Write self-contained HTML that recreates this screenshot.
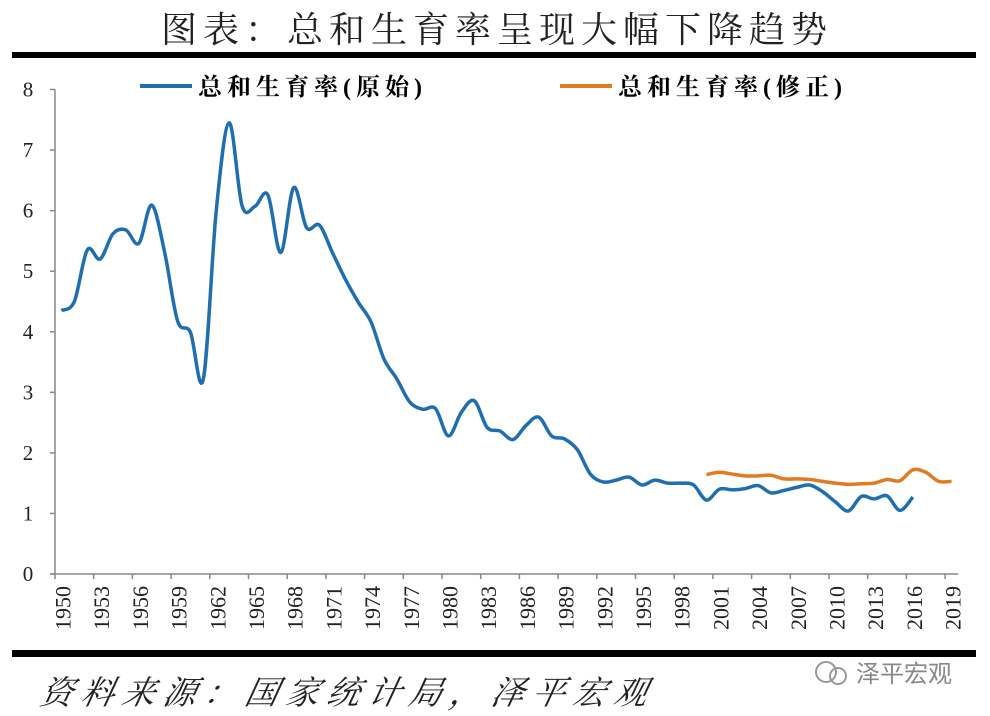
<!DOCTYPE html>
<html><head><meta charset="utf-8"><style>
html,body{margin:0;padding:0;background:#fff;width:990px;height:716px;overflow:hidden}
svg{display:block}
</style></head><body>
<svg id="chart" width="990" height="716" xmlns="http://www.w3.org/2000/svg">
<text x="497" y="42" text-anchor="middle" font-family="'Liberation Serif','Noto Serif CJK SC',serif" font-size="36" fill="#222" letter-spacing="6">图表：总和生育率呈现大幅下降趋势</text>
<rect x="12" y="52" width="964" height="6" fill="#000"/>
<rect x="12" y="650" width="964" height="7" fill="#000"/>
<g>
<g>
<line x1="140" y1="86" x2="192" y2="86" stroke="#1f6fb0" stroke-width="4"/>
<text x="198" y="95" font-family="'Liberation Serif','Noto Serif CJK SC',serif" font-weight="bold" font-size="24" letter-spacing="5" fill="#000">总和生育率(原始)</text>
</g>
<g>
<line x1="560" y1="86" x2="612" y2="86" stroke="#e07b22" stroke-width="4"/>
<text x="618" y="95" font-family="'Liberation Serif','Noto Serif CJK SC',serif" font-weight="bold" font-size="24" letter-spacing="5" fill="#000">总和生育率(修正)</text>
</g>
</g>
<g id="axes"></g>
<g id="series"></g>
<text x="38" y="704" font-family="'Liberation Serif','Noto Serif CJK SC',serif" font-style="italic" font-size="33" letter-spacing="8" fill="#222" transform="skewX(-12) translate(150,0)">资料来源：国家统计局，泽平宏观</text>
<g>
<circle cx="826" cy="672" r="10" fill="none" stroke="#999" stroke-width="2"/>
<circle cx="838" cy="676" r="8" fill="none" stroke="#999" stroke-width="2"/>
<text x="856" y="682" font-family="'Liberation Sans','Noto Sans CJK SC',sans-serif" font-size="24" fill="#888">泽平宏观</text>
</g>
</svg>
<script>
const startYear = 1950;
const endYear = 2019;
const originalValues = [4.35,4.5,5.35,5.2,5.62,5.68,5.46,6.09,5.31,4.18,3.99,3.22,6.0,7.45,6.08,6.07,6.26,5.31,6.38,5.72,5.76,5.31,4.87,4.49,4.16,3.55,3.22,2.84,2.72,2.73,2.28,2.67,2.86,2.42,2.36,2.22,2.45,2.59,2.28,2.23,2.05,1.65,1.52,1.55,1.6,1.47,1.55,1.5,1.5,1.47,1.22,1.4,1.39,1.41,1.46,1.34,1.38,1.43,1.47,1.36,1.19,1.04,1.28,1.24,1.29,1.05,1.27];
const revisedStart = 2000;
const revisedValues = [1.64,1.68,1.65,1.62,1.62,1.63,1.57,1.57,1.56,1.53,1.5,1.48,1.49,1.5,1.56,1.54,1.72,1.68,1.53,1.53];
const yTicks = [0,1,2,3,4,5,6,7,8];

const NS='http://www.w3.org/2000/svg';
const X0=55, X1=958, Y0=574, YTOP=89.5;
const nCat=endYear-startYear+1, cw=(X1-X0)/nCat;
const xs=y=>X0+cw*(y-startYear+0.5);
const ys=v=>Y0-(v/8)*(Y0-YTOP);
function mk(tag,attrs,parent){const e=document.createElementNS(NS,tag);for(const k in attrs)e.setAttribute(k,attrs[k]);parent.appendChild(e);return e;}
const axes=document.getElementById('axes'), series=document.getElementById('series');
const ya=mk('line',{x1:X0,y1:YTOP,x2:X0,y2:Y0,stroke:'#888','stroke-width':1.5},axes);


const xa=mk('line',{x1:X0-5,y1:Y0,x2:X1,y2:Y0,stroke:'#888','stroke-width':1.5},axes);


yTicks.forEach(t=>{
  const y=ys(t);
  mk('line',{x1:X0-5,y1:y,x2:X0,y2:y,stroke:'#888','stroke-width':1.5},axes);
  const tx=mk('text',{x:28,y:y+7,'text-anchor':'middle','font-family':"'Liberation Serif',serif",'font-size':21,fill:'#222'},axes);
  tx.textContent=t;
  
  
});
for(let yr=startYear; yr<=endYear; yr+=3){
  const tx0=X0+cw*(yr-startYear);
  mk('line',{x1:tx0,y1:Y0,x2:tx0,y2:Y0+5,stroke:'#888','stroke-width':1.5},axes);
  const cx=xs(yr)+1;
  const t=mk('text',{x:0,y:0,'text-anchor':'end','font-family':"'Liberation Serif',serif",'font-size':22,fill:'#222',transform:`translate(${cx+8},${Y0+12}) rotate(-90)`},axes);
  t.textContent=yr;
  
  
}
function smooth(pts){
  let d=`M${pts[0][0]},${pts[0][1]}`;
  for(let i=0;i<pts.length-1;i++){
    const p0=pts[Math.max(0,i-1)],p1=pts[i],p2=pts[i+1],p3=pts[Math.min(pts.length-1,i+2)];
    const c1=[p1[0]+(p2[0]-p0[0])/6,p1[1]+(p2[1]-p0[1])/6];
    const c2=[p2[0]-(p3[0]-p1[0])/6,p2[1]-(p3[1]-p1[1])/6];
    d+=` C${c1[0]},${c1[1]} ${c2[0]},${c2[1]} ${p2[0]},${p2[1]}`;
  }
  return d;
}
const p1=mk('path',{d:smooth(originalValues.map((v,i)=>[xs(startYear+i),ys(v)])),fill:'none',stroke:'#1f6fb0','stroke-width':3.5,'stroke-linejoin':'round'},series);


const p2=mk('path',{d:smooth(revisedValues.map((v,i)=>[xs(revisedStart+i),ys(v)])),fill:'none',stroke:'#e07b22','stroke-width':3.5,'stroke-linejoin':'round'},series);


</script>
</body></html>
